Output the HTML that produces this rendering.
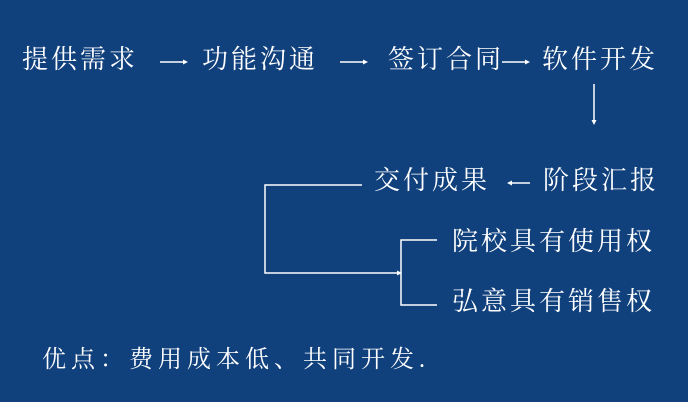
<!DOCTYPE html>
<html><head><meta charset="utf-8"><style>
body{margin:0;width:688px;height:402px;background:#11417d;overflow:hidden;position:relative;font-family:"Liberation Serif","Noto Serif CJK SC",serif;color:#fff}
.t{position:absolute;font-size:26px;line-height:30px;letter-spacing:3px;white-space:nowrap}
svg{position:absolute;left:0;top:0}
</style></head><body>
<div class="t" style="left:22px;top:45px">提供需求</div>
<div class="t" style="left:202px;top:45px">功能沟通</div>
<div class="t" style="left:388px;top:45px">签订合同</div>
<div class="t" style="left:542px;top:45px">软件开发</div>
<div class="t" style="left:374px;top:166px">交付成果</div>
<div class="t" style="left:543px;top:166px">阶段汇报</div>
<div class="t" style="left:452px;top:227px">院校具有使用权</div>
<div class="t" style="left:452px;top:287px">弘意具有销售权</div>
<div class="t" style="left:42px;top:345px;font-size:24px;letter-spacing:5px">优点：费用成本低、共同开发.</div>
<svg width="688" height="402" stroke="#fff" stroke-width="1.5" fill="#fff">
<line x1="160" y1="62" x2="184" y2="62"/><path d="M188 62 l-5 -2.5 v5z" stroke="none"/>
<line x1="340" y1="62" x2="364" y2="62"/><path d="M368 62 l-5 -2.5 v5z" stroke="none"/>
<line x1="502" y1="62" x2="526" y2="62"/><path d="M530 62 l-5 -2.5 v5z" stroke="none"/>
<line x1="594" y1="84" x2="594" y2="120"/><path d="M594 125 l-2.5 -5 h5z" stroke="none"/>
<line x1="511" y1="183" x2="530" y2="183"/><path d="M507 183 l5 -2.5 v5z" stroke="none"/>
<polyline fill="none" points="362,185 265,185 265,273 398,273"/><path d="M402 273 l-5 -2.5 v5z" stroke="none"/>
<polyline fill="none" points="437,240 401,240 401,305 437,305"/>
</svg>
</body></html>
